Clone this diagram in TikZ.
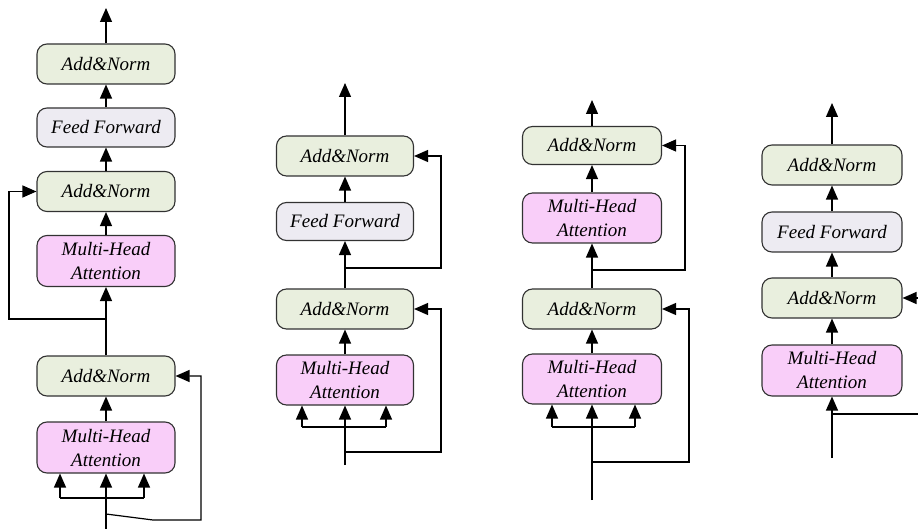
\documentclass[tikz,border=0pt]{standalone}
\usepackage{fontspec}
\setmainfont{Liberation Serif}
\usetikzlibrary{arrows.meta}
\definecolor{normfill}{RGB}{233,239,222}
\definecolor{fffill}{RGB}{237,235,242}
\definecolor{attfill}{RGB}{249,206,249}
\definecolor{edge}{RGB}{50,50,50}
\tikzset{
  blk/.style={draw=edge, line width=1.1pt, rounded corners=10pt, align=center,
    inner sep=0pt, font=\fontsize{19}{24}\selectfont\itshape},
  normbox/.style={blk, fill=normfill, minimum height=40pt},
  ffbox/.style={blk, fill=fffill, minimum height=39pt},
  attbox/.style={blk, fill=attfill, minimum height=51pt},
  conn/.style={line width=1.2pt, black},
  arr/.style={conn, -{Triangle[length=14pt,width=12pt]}}
}
\begin{document}
\begin{tikzpicture}[x=1pt,y=-1pt]
\useasboundingbox (0,0) rectangle (918,529);
\clip (0,0) rectangle (918,529);

% ---------- encoder-decoder block (left) ----------
\begin{scope}[every node/.append style={minimum width=138pt}]
\node[normbox] (an1t) at (106,64) {Add\&Norm};
\node[ffbox]   (ff1)  at (106,127.5) {Feed Forward};
\node[normbox] (an1m) at (106,191.5) {Add\&Norm};
\node[attbox]  (mh1t) at (106,261) {Multi-Head\\Attention};
\node[normbox] (an1l) at (106,376) {Add\&Norm};
\node[attbox]  (mh1l) at (106,447.5) {Multi-Head\\Attention};
\end{scope}
\coordinate (o1) at (106,8);
\coordinate (in1) at (106,529);
\coordinate (s1l) at (60,498);
\coordinate (s1r) at (144,498);
\coordinate (b1) at (106,319);
\coordinate (b1a) at (9,319);
\coordinate (r1a) at (106,514);
\coordinate (r1b) at (153,520);
\coordinate (r1c) at (201,520);
\draw[arr] (an1t.north) -- (o1);
\draw[arr] (ff1) -- (an1t);
\draw[arr] (an1m) -- (ff1);
\draw[arr] (mh1t) -- (an1m);
\draw[arr] (an1l) -- (mh1t);
\draw[arr] (mh1l) -- (an1l);
\draw[arr] (in1) -- (mh1l.south);
\draw[conn] (s1l) -- (s1r);
\draw[arr] (s1l) -- (s1l |- mh1l.south);
\draw[arr] (s1r) -- (s1r |- mh1l.south);
\draw[arr] (b1) -- (b1a) |- (an1m.west);
\draw[arr] (r1a) -- (r1b) -- (r1c) |- (an1l.east);

% ---------- second block ----------
\begin{scope}[every node/.append style={minimum width=137pt}]
\node[normbox] (an2t) at (345,156) {Add\&Norm};
\node[ffbox, minimum height=38pt] (ff2) at (345,221.5) {Feed Forward};
\node[normbox] (an2l) at (345,309) {Add\&Norm};
\node[attbox, minimum height=50pt] (mh2) at (345,380) {Multi-Head\\Attention};
\end{scope}
\coordinate (o2) at (345,83);
\coordinate (in2) at (345,465);
\coordinate (s2l) at (302,427);
\coordinate (s2r) at (386,427);
\coordinate (b2) at (345,268);
\coordinate (b2a) at (441,268);
\coordinate (r2) at (345,452);
\coordinate (r2a) at (441,452);
\draw[arr] (an2t.north) -- (o2);
\draw[arr] (ff2) -- (an2t);
\draw[arr] (an2l) -- (ff2);
\draw[arr] (mh2) -- (an2l);
\draw[arr] (in2) -- (mh2.south);
\draw[conn] (s2l) -- (s2r);
\draw[arr] (s2l) -- (s2l |- mh2.south);
\draw[arr] (s2r) -- (s2r |- mh2.south);
\draw[arr] (b2) -- (b2a) |- (an2t.east);
\draw[arr] (r2) -- (r2a) |- (an2l.east);

% ---------- third block ----------
\begin{scope}[every node/.append style={minimum width=139pt}]
\node[normbox, minimum height=38pt] (an3t) at (592,145.5) {Add\&Norm};
\node[attbox, minimum height=50pt]  (mh3t) at (592,218) {Multi-Head\\Attention};
\node[normbox] (an3l) at (592,309) {Add\&Norm};
\node[attbox, minimum height=50pt]  (mh3l) at (592,379) {Multi-Head\\Attention};
\end{scope}
\coordinate (o3) at (592,100);
\coordinate (in3) at (592,500);
\coordinate (s3l) at (552,427);
\coordinate (s3r) at (635,427);
\coordinate (b3) at (592,270);
\coordinate (b3a) at (685,270);
\coordinate (r3) at (592,462);
\coordinate (r3a) at (689,462);
\draw[arr] (an3t.north) -- (o3);
\draw[arr] (mh3t) -- (an3t);
\draw[arr] (an3l) -- (mh3t);
\draw[arr] (mh3l) -- (an3l);
\draw[arr] (in3) -- (mh3l.south);
\draw[conn] (s3l) -- (s3r);
\draw[arr] (s3l) -- (s3l |- mh3l.south);
\draw[arr] (s3r) -- (s3r |- mh3l.south);
\draw[arr] (b3) -- (b3a) |- (an3t.east);
\draw[arr] (r3) -- (r3a) |- (an3l.east);

% ---------- fourth block (right) ----------
\begin{scope}[every node/.append style={minimum width=140pt}]
\node[normbox] (an4t) at (832,165) {Add\&Norm};
\node[ffbox, minimum height=40pt] (ff4) at (832,232) {Feed Forward};
\node[normbox] (an4l) at (832,298) {Add\&Norm};
\node[attbox]  (mh4)  at (832,370.5) {Multi-Head\\Attention};
\end{scope}
\coordinate (o4) at (832,103);
\coordinate (in4) at (832,458);
\coordinate (r4) at (832,414);
\coordinate (r4a) at (935,414);
\draw[arr] (an4t.north) -- (o4);
\draw[arr] (ff4) -- (an4t);
\draw[arr] (an4l) -- (ff4);
\draw[arr] (mh4) -- (an4l);
\draw[arr] (in4) -- (mh4.south);
\draw[arr] (r4) -- (r4a) |- (an4l.east);
\end{tikzpicture}
\end{document}
